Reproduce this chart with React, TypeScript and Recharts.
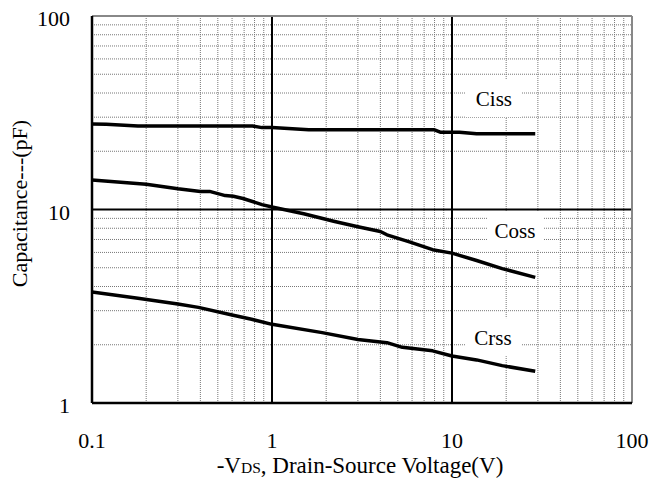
import React from "react";
import {
  LineChart,
  Line,
  XAxis,
  YAxis,
  ReferenceLine,
  ReferenceDot,
} from "recharts";

// values (V in volts, C in pF)
const ciss = [
  { v: 0.1, c: 27.7 },
  { v: 0.12, c: 27.6 },
  { v: 0.18, c: 27.0 },
  { v: 0.78, c: 27.0 },
  { v: 0.88, c: 26.5 },
  { v: 1.0, c: 26.5 },
  { v: 1.6, c: 25.8 },
  { v: 8.0, c: 25.8 },
  { v: 8.6, c: 25.1 },
  { v: 11, c: 25.1 },
  { v: 13.7, c: 24.6 },
  { v: 29, c: 24.6 },
];

const coss = [
  { v: 0.1, c: 14.2 },
  { v: 0.2, c: 13.5 },
  { v: 0.3, c: 12.8 },
  { v: 0.4, c: 12.4 },
  { v: 0.45, c: 12.4 },
  { v: 0.55, c: 11.8 },
  { v: 0.61, c: 11.7 },
  { v: 0.69, c: 11.4 },
  { v: 0.88, c: 10.6 },
  { v: 1.0, c: 10.3 },
  { v: 1.5, c: 9.5 },
  { v: 2.2, c: 8.7 },
  { v: 3.0, c: 8.15 },
  { v: 4.0, c: 7.7 },
  { v: 4.35, c: 7.4 },
  { v: 5.8, c: 6.8 },
  { v: 7.8, c: 6.2 },
  { v: 10, c: 5.95 },
  { v: 13.7, c: 5.45 },
  { v: 19, c: 4.95 },
  { v: 29, c: 4.46 },
];

const crss = [
  { v: 0.1, c: 3.75 },
  { v: 0.18, c: 3.48 },
  { v: 0.3, c: 3.25 },
  { v: 0.39, c: 3.12 },
  { v: 0.6, c: 2.85 },
  { v: 0.77, c: 2.71 },
  { v: 1.0, c: 2.55 },
  { v: 1.9, c: 2.31 },
  { v: 3.0, c: 2.13 },
  { v: 4.35, c: 2.05 },
  { v: 5.3, c: 1.94 },
  { v: 7.8, c: 1.86 },
  { v: 10, c: 1.75 },
  { v: 13.7, c: 1.67 },
  { v: 19, c: 1.56 },
  { v: 29, c: 1.46 },
];

const xTicks = [0.1, 1, 10, 100];
const yTicks = [1, 10, 100];
const xMinor = [
  0.2, 0.3, 0.4, 0.5, 0.6, 0.7, 0.8, 0.9,
  2, 3, 4, 5, 6, 7, 8, 9,
  20, 30, 40, 50, 60, 70, 80, 90,
];
const yMinor = [2, 3, 4, 5, 6, 7, 8, 9, 20, 30, 40, 50, 60, 70, 80, 90];
const xMajor = [1, 10];
const yMajor = [10];

const curveTags = [
  { name: "Ciss", v: 17.1, c: 37.7 },
  { name: "Coss", v: 22.4, c: 7.8 },
  { name: "Crss", v: 16.9, c: 2.19 },
];

const serif = { fontFamily: '"Liberation Serif", "DejaVu Serif", serif' };

const XTick = ({ x, y, payload }: any) => (
  <text x={x} y={y + 45} textAnchor="middle" style={serif} fontSize={22} fill="#000">
    {payload.value}
  </text>
);

const YTick = ({ x, y, payload }: any) => (
  <text x={x - 22} y={y + 10} textAnchor="end" style={serif} fontSize={22} fill="#000">
    {payload.value}
  </text>
);

const TagShape = (name: string) => (props: any) => {
  const { cx, cy } = props;
  return (
    <g>
      <rect x={cx - 28} y={cy - 19} width={56} height={38} fill="#fff" />
      <text x={cx} y={cy + 8} textAnchor="middle" style={serif} fontSize={21} fill="#000">
        {name}
      </text>
    </g>
  );
};

export default function App() {
  return (
    <div style={{ position: "absolute", left: 0, top: 0, background: "#fff", ...serif }}>
      <LineChart
        width={650}
        height={484}
        margin={{ top: 16, right: 18, bottom: 0, left: 0 }}
      >
        <XAxis
          dataKey="v"
          type="number"
          scale="log"
          domain={[0.1, 100]}
          ticks={xTicks}
          allowDataOverflow
          height={81}
          axisLine={false}
          tickLine={false}
          tickSize={0}
          tickMargin={0}
          interval={0}
          tick={<XTick />}
          label={{
            content: ({ viewBox }: any) => (
              <text
                x={viewBox.x + viewBox.width / 2 - 2}
                y={viewBox.y + 70}
                textAnchor="middle"
                style={serif}
                fontSize={23}
                fill="#000"
              >
                -V<tspan fontSize={15.5}>DS</tspan>, Drain-Source Voltage(V)
              </text>
            ),
          }}
        />
        <YAxis
          dataKey="c"
          type="number"
          scale="log"
          domain={[1, 100]}
          ticks={yTicks}
          allowDataOverflow
          width={92}
          axisLine={false}
          tickLine={false}
          tickSize={0}
          tickMargin={0}
          interval={0}
          tick={<YTick />}
          label={{
            content: ({ viewBox }: any) => {
              const cx = viewBox.x + 19;
              const cy = viewBox.y + viewBox.height / 2 - 6;
              return (
                <text
                  x={cx}
                  y={cy}
                  transform={`rotate(-90 ${cx} ${cy})`}
                  textAnchor="middle"
                  dominantBaseline="central"
                  style={serif}
                  fontSize={22}
                  fill="#000"
                >
                  Capacitance---(pF)
                </text>
              );
            },
          }}
        />

        {xMinor.map((v) => (
          <ReferenceLine key={`xm${v}`} x={v} stroke="#777" strokeWidth={1} strokeDasharray="1 1" zIndex={100} />
        ))}
        {yMinor.map((c) => (
          <ReferenceLine key={`ym${c}`} y={c} stroke="#777" strokeWidth={1} strokeDasharray="1 1" zIndex={100} />
        ))}
        {xMajor.map((v) => (
          <ReferenceLine key={`xM${v}`} x={v} stroke="#000" strokeWidth={2} zIndex={110} />
        ))}
        {yMajor.map((c) => (
          <ReferenceLine key={`yM${c}`} y={c} stroke="#000" strokeWidth={2} zIndex={110} />
        ))}

        {curveTags.map((t) => (
          <ReferenceDot key={t.name} x={t.v} y={t.c} r={1} shape={TagShape(t.name)} zIndex={300} />
        ))}

        <Line data={ciss} dataKey="c" stroke="#000" strokeWidth={3.5} dot={false} isAnimationActive={false} strokeLinejoin="round" zIndex={400} />
        <Line data={coss} dataKey="c" stroke="#000" strokeWidth={3.5} dot={false} isAnimationActive={false} strokeLinejoin="round" zIndex={400} />
        <Line data={crss} dataKey="c" stroke="#000" strokeWidth={3.5} dot={false} isAnimationActive={false} strokeLinejoin="round" zIndex={400} />

        <ReferenceLine y={100} stroke="#888" strokeWidth={2} zIndex={500} />
        <ReferenceLine x={100} stroke="#888" strokeWidth={2} zIndex={500} />
        <ReferenceLine x={0.1} stroke="#000" strokeWidth={2.5} zIndex={510} />
        <ReferenceLine y={1} stroke="#000" strokeWidth={2.5} zIndex={510} />
      </LineChart>
    </div>
  );
}
